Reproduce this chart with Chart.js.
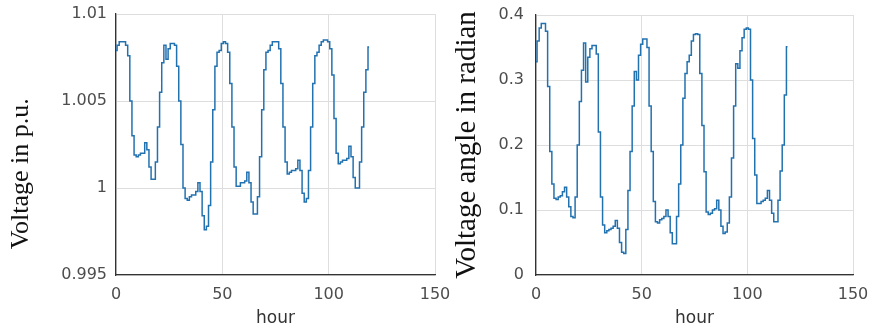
<!DOCTYPE html>
<html>
<head>
<meta charset="utf-8">
<script src="https://cdn.jsdelivr.net/npm/chart.js@4/dist/chart.umd.min.js"></script>
<style>
  html, body { margin: 0; padding: 0; background: #fff; }
  #wrap { position: relative; width: 873px; height: 332px; overflow: hidden; }
  .box { position: absolute; top: 0; height: 332px; }
</style>
</head>
<body>
<div id="wrap">
  <div class="box" style="left:0;width:450px"><canvas id="volt"></canvas></div>
  <div class="box" style="left:450px;width:423px"><canvas id="angle"></canvas></div>
</div>
<script>
// hours 0..119
const hours = [
  0, 1, 2, 3, 4, 5, 6, 7, 8, 9, 10, 11, 12, 13, 14, 15, 16, 17, 18, 19,
  20, 21, 22, 23, 24, 25, 26, 27, 28, 29, 30, 31, 32, 33, 34, 35, 36, 37, 38, 39,
  40, 41, 42, 43, 44, 45, 46, 47, 48, 49, 50, 51, 52, 53, 54, 55, 56, 57, 58, 59,
  60, 61, 62, 63, 64, 65, 66, 67, 68, 69, 70, 71, 72, 73, 74, 75, 76, 77, 78, 79,
  80, 81, 82, 83, 84, 85, 86, 87, 88, 89, 90, 91, 92, 93, 94, 95, 96, 97, 98, 99,
  100, 101, 102, 103, 104, 105, 106, 107, 108, 109, 110, 111, 112, 113, 114, 115, 116, 117, 118, 119
];

// voltage magnitude, p.u.
const voltage = [
  1.0079, 1.0082, 1.0084, 1.0084, 1.0084, 1.0082, 1.0076, 1.0050, 1.0030, 1.0019,
  1.0018, 1.0019, 1.0020, 1.0020, 1.0026, 1.0022, 1.0012, 1.0005, 1.0005, 1.0015,
  1.0035, 1.0055, 1.0072, 1.0082, 1.0074, 1.0080, 1.0083, 1.0083, 1.0082, 1.0070,
  1.0050, 1.0025, 1.0000, 0.9994, 0.9993, 0.9995, 0.9996, 0.9996, 0.9998, 1.0003,
  0.9998, 0.9984, 0.9976, 0.9978, 0.9990, 1.0015, 1.0045, 1.0070, 1.0078, 1.0079,
  1.0083, 1.0084, 1.0083, 1.0078, 1.0060, 1.0035, 1.0012, 1.0001, 1.0001, 1.0003,
  1.0003, 1.0004, 1.0009, 1.0003, 0.9992, 0.9985, 0.9985, 0.9995, 1.0018, 1.0045,
  1.0068, 1.0078, 1.0079, 1.0082, 1.0084, 1.0084, 1.0084, 1.0080, 1.0060, 1.0035,
  1.0015, 1.0008, 1.0009, 1.0010, 1.0010, 1.0011, 1.0016, 1.0010, 0.9997, 0.9992,
  0.9994, 1.0010, 1.0035, 1.0060, 1.0076, 1.0078, 1.0082, 1.0084, 1.0085, 1.0085,
  1.0084, 1.0080, 1.0065, 1.0040, 1.0020, 1.0014, 1.0015, 1.0016, 1.0016, 1.0017,
  1.0024, 1.0018, 1.0006, 1.0000, 1.0000, 1.0015, 1.0035, 1.0055, 1.0068, 1.0081
];

// voltage angle, rad
const angle = [
  0.328, 0.360, 0.380, 0.387, 0.387, 0.375, 0.290, 0.190, 0.140, 0.118,
  0.116, 0.120, 0.122, 0.128, 0.135, 0.120, 0.105, 0.090, 0.088, 0.120,
  0.200, 0.267, 0.315, 0.357, 0.297, 0.335, 0.348, 0.353, 0.353, 0.340,
  0.220, 0.120, 0.077, 0.065, 0.068, 0.070, 0.072, 0.075, 0.084, 0.072,
  0.050, 0.035, 0.033, 0.070, 0.130, 0.190, 0.260, 0.313, 0.300, 0.338,
  0.355, 0.363, 0.363, 0.350, 0.260, 0.190, 0.113, 0.082, 0.080, 0.085,
  0.087, 0.090, 0.100, 0.090, 0.065, 0.048, 0.048, 0.090, 0.140, 0.200,
  0.272, 0.310, 0.328, 0.338, 0.360, 0.370, 0.371, 0.370, 0.310, 0.230,
  0.159, 0.097, 0.093, 0.095, 0.100, 0.102, 0.115, 0.100, 0.075, 0.064,
  0.066, 0.080, 0.120, 0.180, 0.260, 0.325, 0.318, 0.345, 0.365, 0.378,
  0.380, 0.378, 0.300, 0.210, 0.154, 0.110, 0.110, 0.113, 0.115, 0.118,
  0.130, 0.115, 0.095, 0.082, 0.082, 0.115, 0.160, 0.200, 0.277, 0.351
];

const xTicks = [0, 50, 100, 150];
const voltTicks = [0.995, 1, 1.005, 1.01];
const angleTicks = [0, 0.1, 0.2, 0.3, 0.4];

const lineColor = '#2372b0';
const gridColor = '#dedede';
const axisColor = '#333333';
const tickColor = '#4d4d4d';

function makeChart(id, values, yTicks, yTitle, opt) {
  new Chart(document.getElementById(id), {
    type: 'line',
    data: {
      datasets: [{
        data: hours.map((h, i) => ({ x: h, y: values[i] })),
        borderColor: lineColor,
        borderWidth: 1.5,
        pointRadius: 0,
        stepped: 'middle',
        fill: false
      }]
    },
    options: {
      responsive: true,
      maintainAspectRatio: false,
      animation: false,
      layout: { padding: opt.pad },
      plugins: { legend: { display: false }, tooltip: { enabled: false } },
      scales: {
        x: {
          type: 'linear',
          min: xTicks[0],
          max: xTicks[xTicks.length - 1],
          afterBuildTicks: s => { s.ticks = xTicks.map(v => ({ value: v })); },
          afterFit: s => { s.height = 57; s.paddingLeft = 0; s.paddingRight = 0; },
          grid: { color: gridColor, drawTicks: false },
          border: { color: axisColor, width: 1.3 },
          ticks: {
            padding: 10,
            color: tickColor,
            font: { family: 'DejaVu Sans', size: 16 },
            maxRotation: 0
          },
          title: {
            display: true,
            text: 'hour',
            color: '#333',
            font: { family: 'DejaVu Sans', size: 17 },
            padding: { top: 0, bottom: 3 }
          }
        },
        y: {
          min: yTicks[0],
          max: yTicks[yTicks.length - 1],
          afterBuildTicks: s => { s.ticks = yTicks.map(v => ({ value: v })); },
          afterFit: s => { s.width = opt.yWidth; s.paddingTop = 0; s.paddingBottom = 0; },
          grid: { color: gridColor, drawTicks: false },
          border: { color: axisColor, width: 1.3 },
          ticks: {
            padding: opt.yPad,
            color: tickColor,
            font: { family: 'DejaVu Sans', size: 16 },
            callback: v => String(+v.toFixed(3))
          },
          title: {
            display: true,
            text: yTitle,
            align: 'center',
            color: '#111',
            font: { family: 'Liberation Serif', size: opt.titleSize },
            padding: { top: opt.titleTop, bottom: 0 }
          }
        }
      }
    }
  });
}

makeChart('volt', voltage, voltTicks, 'Voltage in p.u.         ', {
  pad: { left: 0, right: 15, top: 14, bottom: 0 },
  yWidth: 116, yPad: 9, titleSize: 26, titleTop: 6
});
makeChart('angle', angle, angleTicks, 'Voltage angle in radian', {
  pad: { left: 0, right: 20, top: 15, bottom: 0 },
  yWidth: 86, yPad: 12, titleSize: 29, titleTop: 0
});
</script>
</body>
</html>
